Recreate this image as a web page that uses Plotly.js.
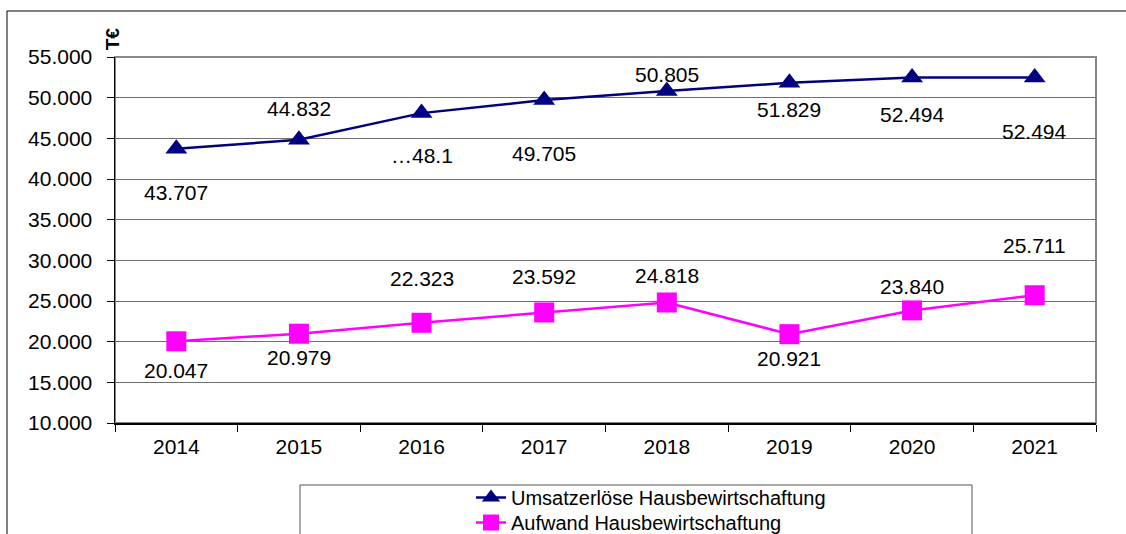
<!DOCTYPE html>
<html>
<head>
<meta charset="utf-8">
<script src="https://cdn.plot.ly/plotly-3.0.1.min.js"></script>
<style>
html,body{margin:0;padding:0;background:#fff;}
#chart{width:1126px;height:534px;}
</style>
</head>
<body>
<div id="chart"></div>
<script>
// ---- data ----
const years = ["2014","2015","2016","2017","2018","2019","2020","2021"];
const umsatz = [43707, 44832, 48100, 49705, 50805, 51829, 52494, 52494];
const aufwand = [20047, 20979, 22323, 23592, 24818, 20921, 23840, 25711];
const umsatzLabels = ["43.707","44.832","\u202648.1","49.705","50.805","51.829","52.494","52.494"];
const aufwandLabels = ["20.047","20.979","22.323","23.592","24.818","20.921","23.840","25.711"];
const seriesNames = ["Umsatzerlöse Hausbewirtschaftung","Aufwand Hausbewirtschaftung"];

// ---- label offsets (style) ----
const umsatzShift = [-44, 31, -42, -53, 17, -27, -37, -54];
const aufwandShift = [-29, -24, 44, 36, 27, -24, 24, 50];

const FONT = "Liberation Sans, Arial, sans-serif";

const traces = [
  {
    x: years, y: umsatz, name: seriesNames[0], type: "scatter", mode: "lines+markers",
    line: {color: "#000080", width: 2.5},
    marker: {symbol: "triangle-up", size: 19, color: "#000080"},
    hoverinfo: "none", legend: "legend"
  },
  {
    x: years, y: aufwand, name: seriesNames[1], type: "scatter", mode: "lines+markers",
    line: {color: "#FF00FF", width: 2.5},
    marker: {symbol: "square", size: 20, color: "#FF00FF"},
    hoverinfo: "none", legend: "legend2"
  }
];

const annotations = [];
years.forEach((yr, i) => {
  annotations.push({x: i, y: umsatz[i], text: umsatzLabels[i], showarrow: false,
    yshift: umsatzShift[i], font: {family: FONT, size: 21, color: "#000"}});
  annotations.push({x: i, y: aufwand[i], text: aufwandLabels[i], showarrow: false,
    yshift: aufwandShift[i], font: {family: FONT, size: 21, color: "#000"}});
});
annotations.push({
  xref: "paper", yref: "paper", x: -0.0025, y: 1.05, text: "<b>T€</b>", textangle: -90,
  showarrow: false, xanchor: "center", yanchor: "middle",
  font: {family: FONT, size: 19, color: "#000"}
});

const legendStyle = {
  x: 0.3629, xanchor: "left", yanchor: "top",
  bgcolor: "rgba(0,0,0,0)", borderwidth: 0,
  font: {family: FONT, size: 20, color: "#000"}
};

const layout = {
  width: 1126, height: 534,
  margin: {l: 115, r: 30, t: 57, b: 111, autoexpand: false},
  paper_bgcolor: "#fff", plot_bgcolor: "#fff",
  separators: ",.",
  showlegend: true,
  font: {family: FONT, size: 20, color: "#000"},
  xaxis: {
    type: "category", categoryorder: "array", categoryarray: years,
    range: [-0.5, years.length - 0.5], autorange: false,
    showgrid: false, tickson: "boundaries", tickangle: 0,
    ticks: "outside", ticklen: 7, tickcolor: "#000", tickwidth: 1,
    ticklabelstandoff: 4,
    showline: true, linecolor: "#000", linewidth: 1.5,
    tickfont: {family: FONT, size: 21, color: "#000"},
    zeroline: false, fixedrange: true, automargin: false
  },
  yaxis: {
    range: [10000, 55000], autorange: false, dtick: 5000, tick0: 10000, tickformat: ",d",
    ticks: "outside", ticklen: 7, tickcolor: "#000",
    ticklabelstandoff: 10,
    showline: true, linecolor: "#000", linewidth: 1.5,
    showgrid: true, gridcolor: "#6e6e6e", gridwidth: 1,
    tickfont: {family: FONT, size: 21, color: "#000"},
    zeroline: false, fixedrange: true, automargin: false
  },
  legend: Object.assign({}, legendStyle, {y: -0.1503}),
  legend2: Object.assign({}, legendStyle, {y: -0.2186}),
  shapes: [
    {type: "rect", xref: "paper", yref: "paper", x0: -0.1101, x1: 1.04, y0: -0.35, y1: 1.1257,
     line: {color: "#000", width: 1}, fillcolor: "rgba(0,0,0,0)", layer: "below"},
    {type: "rect", xref: "paper", yref: "paper", x0: 0, x1: 1, y0: 0, y1: 1,
     line: {color: "#888", width: 2}, fillcolor: "rgba(0,0,0,0)", layer: "below"},
    {type: "rect", xref: "paper", yref: "paper", x0: 0.1886, x1: 0.8736, y0: -0.35, y1: -0.1694,
     line: {color: "#555", width: 1}, fillcolor: "rgba(0,0,0,0)", layer: "below"}
  ],
  annotations: annotations
};

Plotly.newPlot("chart", traces, layout, {displayModeBar: false, staticPlot: true});
</script>
</body>
</html>
